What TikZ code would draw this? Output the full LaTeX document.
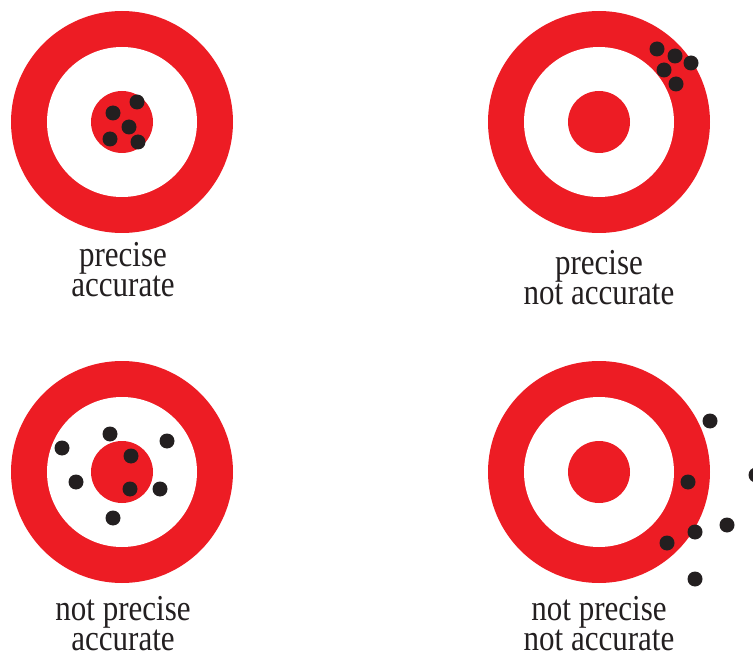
\documentclass[tikz,border=0pt]{standalone}
\usepackage{fontspec}
\setmainfont{Liberation Serif}[FakeStretch=0.85]
\usetikzlibrary{positioning}
\definecolor{tred}{HTML}{ED1C24}
\definecolor{tdot}{HTML}{231F20}

\begin{document}
\begin{tikzpicture}[
    x=1pt, y=1pt,
    ring/.style={circle, fill=tred, minimum size=222pt, inner sep=0pt},
    hole/.style={circle, fill=white, minimum size=150pt, inner sep=0pt},
    bull/.style={circle, fill=tred, minimum size=62pt, inner sep=0pt},
    shot/.style={circle, fill=tdot, minimum size=15pt, inner sep=0pt},
    lbl/.style={align=center, font=\fontsize{36.5}{30}\selectfont, text=tdot, inner sep=0pt, anchor=base}
]
\useasboundingbox (0,0) rectangle (753,-655);

% targets
\foreach \n/\x/\y in {t1/122/-122, t2/599/-122, t3/122/-472, t4/599/-472} {
  \node[ring] (\n) at (\x,\y) {};
  \node[hole] (\n h) at (\n) {};
  \node[bull] (\n b) at (\n) {};
}

% shots
\foreach \x/\y [count=\i] in {137/-102, 113/-113, 129/-127, 110/-139, 138/-142}
  \node[shot] (a\i) at (\x,\y) {};
\foreach \x/\y [count=\i] in {657/-49, 675/-56, 691/-63, 664/-70, 676/-84}
  \node[shot] (b\i) at (\x,\y) {};
\foreach \x/\y [count=\i] in {62/-448, 110/-434, 167/-441, 131/-456, 76/-482, 130/-489, 160/-489, 113/-518}
  \node[shot] (c\i) at (\x,\y) {};
\foreach \x/\y [count=\i] in {710/-421, 756/-475, 688/-482, 727/-525, 695/-532, 667/-543, 695/-579}
  \node[shot] (d\i) at (\x,\y) {};

% labels
\node[lbl] (l1) at (123,-297) {precise\\accurate};
\node[lbl] (l2) at (599,-305) {precise\\not accurate};
\node[lbl] (l3) at (123,-650) {not precise\\accurate};
\node[lbl] (l4) at (599,-650) {not precise\\not accurate};
\end{tikzpicture}
\end{document}
